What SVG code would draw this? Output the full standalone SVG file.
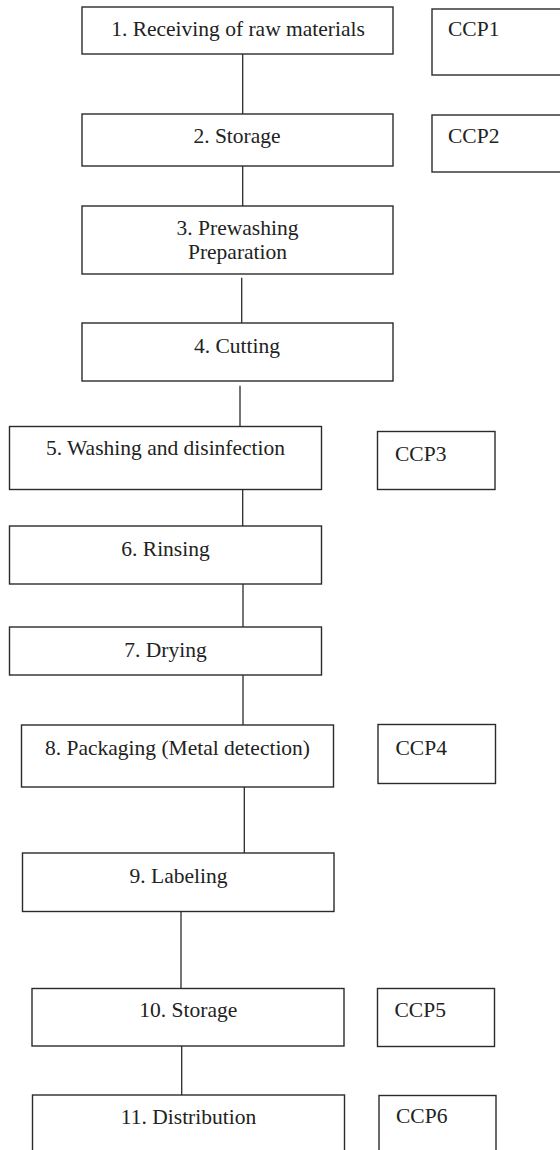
<svg xmlns="http://www.w3.org/2000/svg" width="560" height="1150" viewBox="0 0 560 1150">
<style>
.box{fill:#fff;stroke:#2b2b2b;stroke-width:1.4}
.lbl{font-family:"Liberation Serif","Times New Roman",serif;font-size:21.5px;fill:#222}
.c{text-anchor:middle}
.conn line{stroke:#2b2b2b;stroke-width:1.3}
</style>
<rect width="560" height="1150" fill="#fff"/>
<g id="connectors" class="conn">
<line x1="242.7" y1="54" x2="242.7" y2="114"/>
<line x1="242.7" y1="166" x2="242.7" y2="206"/>
<line x1="241.7" y1="277.7" x2="241.7" y2="323"/>
<line x1="240" y1="385.7" x2="240" y2="426.5"/>
<line x1="242.7" y1="489.3" x2="242.7" y2="526"/>
<line x1="243" y1="584" x2="243" y2="627"/>
<line x1="243" y1="675" x2="243" y2="725"/>
<line x1="244.3" y1="787" x2="244.3" y2="853"/>
<line x1="181" y1="911.5" x2="181" y2="988.5"/>
<line x1="181.7" y1="1046" x2="181.7" y2="1095"/>
</g>
<g id="n1"><rect class="box" x="82" y="7" width="311" height="47"/><text class="lbl c" x="238" y="36">1. Receiving of raw materials</text></g>
<g id="ccp1"><rect class="box" x="432" y="9" width="140" height="66"/><text class="lbl" x="448" y="36">CCP1</text></g>
<g id="n2"><rect class="box" x="82" y="114" width="311" height="52"/><text class="lbl c" x="237" y="143">2. Storage</text></g>
<g id="ccp2"><rect class="box" x="432" y="115" width="140" height="57"/><text class="lbl" x="448" y="143">CCP2</text></g>
<g id="n3"><rect class="box" x="82" y="206" width="311" height="68"/><text class="lbl c" x="237.5" y="235">3. Prewashing</text><text class="lbl c" x="237.5" y="259">Preparation</text></g>
<g id="n4"><rect class="box" x="82" y="323" width="311" height="58"/><text class="lbl c" x="237" y="353">4. Cutting</text></g>
<g id="n5"><rect class="box" x="9.5" y="426.5" width="312" height="63"/><text class="lbl c" x="165.5" y="455">5. Washing and disinfection</text></g>
<g id="ccp3"><rect class="box" x="377.5" y="431.5" width="117.5" height="58"/><text class="lbl" x="395" y="461">CCP3</text></g>
<g id="n6"><rect class="box" x="9.5" y="526" width="312" height="58"/><text class="lbl c" x="165.5" y="556">6. Rinsing</text></g>
<g id="n7"><rect class="box" x="9.5" y="627" width="312" height="48"/><text class="lbl c" x="165.5" y="656.5">7. Drying</text></g>
<g id="n8"><rect class="box" x="21.5" y="725" width="312" height="62"/><text class="lbl c" x="177.5" y="755">8. Packaging (Metal detection)</text></g>
<g id="ccp4"><rect class="box" x="378" y="724.5" width="117.5" height="59"/><text class="lbl" x="395.5" y="754.5">CCP4</text></g>
<g id="n9"><rect class="box" x="22.5" y="853" width="311.5" height="58.5"/><text class="lbl c" x="178.5" y="883.3">9. Labeling</text></g>
<g id="n10"><rect class="box" x="32" y="988.5" width="312" height="57.5"/><text class="lbl c" x="188.3" y="1016.7">10. Storage</text></g>
<g id="ccp5"><rect class="box" x="377.5" y="988.5" width="117" height="58"/><text class="lbl" x="394.5" y="1017">CCP5</text></g>
<g id="n11"><rect class="box" x="32.5" y="1095" width="312" height="80"/><text class="lbl c" x="188.5" y="1124">11. Distribution</text></g>
<g id="ccp6"><rect class="box" x="379" y="1095.5" width="117" height="80"/><text class="lbl" x="396" y="1123">CCP6</text></g>
</svg>
